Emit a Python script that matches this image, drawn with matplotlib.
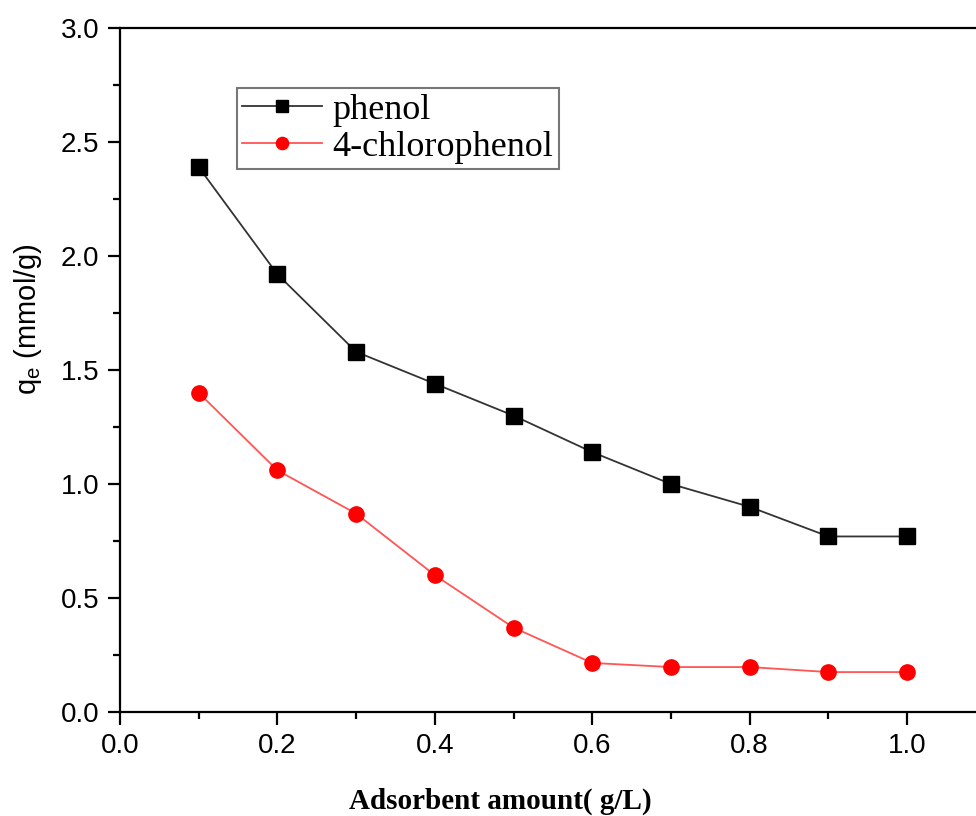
import numpy as np
import matplotlib.pyplot as plt

# adsorbent amount (g/L)
dose = [0.1, 0.2, 0.3, 0.4, 0.5, 0.6, 0.7, 0.8, 0.9, 1.0]
# qe (mmol/g)
qe_phenol = [2.39, 1.92, 1.58, 1.44, 1.30, 1.14, 1.00, 0.90, 0.77, 0.77]
qe_cp = [1.40, 1.06, 0.87, 0.60, 0.37, 0.215, 0.197, 0.197, 0.175, 0.175]

fig = plt.figure(figsize=(9.76, 8.16), dpi=100)
# axes runs a bit past the right edge like the original crop
ax = fig.add_axes([0.123, 0.1275, 0.887, 0.838])

ax.plot(dose, qe_phenol, color='#333333', lw=1.3, marker='s', ms=11,
        mfc='black', mec='black', label='phenol')
ax.plot(dose, qe_cp, color='#ff5555', lw=1.3, marker='o', ms=11,
        mfc='red', mec='red', label='4-chlorophenol')

ax.set_xlim(0, 1.1)
ax.set_ylim(0, 3.0)
ax.set_xticks(np.arange(0, 1.01, 0.2))
ax.set_xticks(np.arange(0.1, 1.1, 0.2), minor=True)
ax.set_yticks(np.arange(0, 3.01, 0.5))
ax.set_yticks(np.arange(0.25, 3.0, 0.5), minor=True)
ax.xaxis.set_major_formatter(plt.FormatStrFormatter('%.1f'))
ax.yaxis.set_major_formatter(plt.FormatStrFormatter('%.1f'))

for s in ax.spines.values():
    s.set_linewidth(1.6)
ax.tick_params(which='major', direction='out', length=9, width=1.6,
               labelsize=20, pad=6)
ax.tick_params(which='minor', direction='out', length=5, width=1.6)
for lab in ax.get_xticklabels() + ax.get_yticklabels():
    lab.set_family('Liberation Sans')

ax.set_xlabel('Adsorbent amount( g/L)', family='Liberation Serif',
              fontweight='bold', fontsize=21)
ax.xaxis.set_label_coords(0.439, -0.11)
ax.set_ylabel(r'q$_\mathregular{e}$ (mmol/g)', family='Liberation Sans',
              fontsize=21)
ax.yaxis.set_label_coords(-0.088, 0.575)

leg = ax.legend(loc='upper left', bbox_to_anchor=(0.135, 0.912),
                prop={'family': 'Liberation Serif', 'size': 26},
                markerscale=0.8, frameon=True, fancybox=False,
                handlelength=2.2, handletextpad=0.3, borderpad=0.15,
                labelspacing=0.1, borderaxespad=0)
leg.get_frame().set_edgecolor('#555555')
leg.get_frame().set_linewidth(1.5)

fig.savefig('out.png', dpi=100)
